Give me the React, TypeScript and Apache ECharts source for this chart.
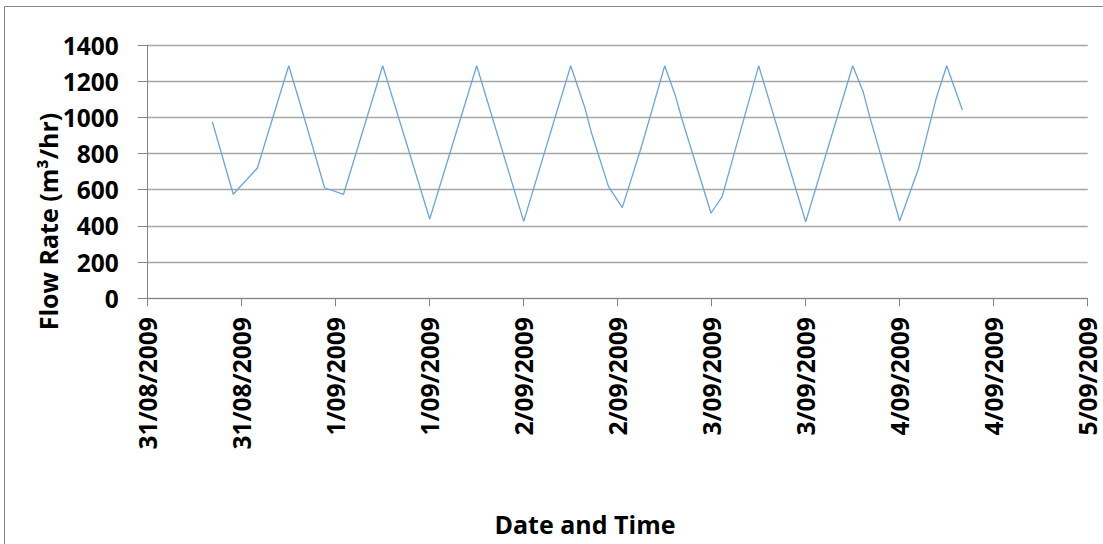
import React, { useEffect, useRef } from "react";
import * as echarts from "echarts";

const times: string[] = [
  "2009-08-31T08:15Z", "2009-08-31T10:55Z", "2009-08-31T14:00Z", "2009-08-31T18:00Z",
  "2009-08-31T19:15Z", "2009-08-31T20:15Z", "2009-08-31T22:35Z", "2009-09-01T01:00Z",
  "2009-09-01T06:00Z", "2009-09-01T12:00Z", "2009-09-01T18:00Z", "2009-09-02T00:00Z",
  "2009-09-02T06:00Z", "2009-09-02T07:50Z", "2009-09-02T08:40Z", "2009-09-02T10:50Z",
  "2009-09-02T12:35Z", "2009-09-02T14:50Z", "2009-09-02T16:05Z", "2009-09-02T18:00Z",
  "2009-09-02T19:20Z", "2009-09-02T20:10Z", "2009-09-02T23:55Z", "2009-09-03T01:20Z",
  "2009-09-03T06:00Z", "2009-09-03T12:00Z", "2009-09-03T18:00Z", "2009-09-03T19:20Z",
  "2009-09-03T20:10Z", "2009-09-04T00:00Z", "2009-09-04T01:30Z", "2009-09-04T02:25Z",
  "2009-09-04T04:40Z", "2009-09-04T06:00Z", "2009-09-04T08:00Z",
];

const flowRates: number[] = [
  976, 575, 720, 1285,
  1106, 958, 611, 575,
  1285, 438, 1285, 425,
  1285, 1050, 912, 617,
  501, 810, 995, 1285,
  1124, 995, 470, 562,
  1285, 423, 1285, 1142,
  1004, 427, 608, 719,
  1106, 1285, 1041,
];

const xStart = "2009-08-31T00:00Z";
const xEnd = "2009-09-05T00:00Z";
const xStepHours = 12;
const yTicks: number[] = [0, 200, 400, 600, 800, 1000, 1200, 1400];

const yTitle = "Flow Rate (m³/hr)";
const xTitle = "Date and Time";

const FONT = "'Open Sans', 'Liberation Sans', sans-serif";

export default function App() {
  const ref = useRef<HTMLDivElement>(null);

  useEffect(() => {
    document.body.style.margin = "0";
    if (!ref.current) return;
    const chart = echarts.init(ref.current, undefined, { renderer: "svg" });
    const data = times.map((t, i) => [Date.parse(t), flowRates[i]]);
    const fmt = (v: number) => {
      const d = new Date(v);
      const dd = d.getUTCDate();
      const mm = String(d.getUTCMonth() + 1).padStart(2, "0");
      return `${dd}/${mm}/${d.getUTCFullYear()}`;
    };
    chart.setOption({
      animation: false,
      backgroundColor: "#ffffff",
      grid: { left: 147.7, top: 45, right: 15.3, bottom: 245.7, containLabel: false },
      xAxis: {
        type: "value",
        min: Date.parse(xStart),
        max: Date.parse(xEnd),
        interval: xStepHours * 3600 * 1000,
        axisLine: { show: true, lineStyle: { color: "#868686", width: 1 } },
        axisTick: { show: true, length: 8, lineStyle: { color: "#868686" } },
        splitLine: { show: false },
        axisLabel: {
          rotate: 90,
          margin: 19,
          formatter: fmt,
          color: "#000",
          fontSize: 24.5,
          fontWeight: "bold",
          fontFamily: FONT,
          showMinLabel: true,
          showMaxLabel: true,
        },
      },
      yAxis: {
        type: "value",
        min: yTicks[0],
        max: yTicks[yTicks.length - 1],
        interval: yTicks[1] - yTicks[0],
        axisLine: { show: true, lineStyle: { color: "#868686", width: 1 } },
        axisTick: { show: true, length: 10, lineStyle: { color: "#868686" } },
        splitLine: { show: true, lineStyle: { color: "#a6a6a6", width: 1.3 } },
        axisLabel: {
          margin: 29,
          formatter: (v: number) => String(v),
          color: "#000",
          fontSize: 24.5,
          fontWeight: "bold",
          fontFamily: FONT,
        },
      },
      series: [
        {
          type: "line",
          data,
          symbol: "none",
          lineStyle: { color: "#6aa6de", width: 1.3 },
        },
      ],
      graphic: [
        {
          type: "rect",
          shape: { x: 4.5, y: 6.5, width: 1300, height: 700 },
          style: { fill: "none", stroke: "#868686", lineWidth: 1 },
          silent: true,
        },
        {
          type: "text",
          x: 48,
          y: 221.5,
          rotation: Math.PI / 2,
          style: {
            text: yTitle,
            fontSize: 25,
            fontWeight: "bold",
            fontFamily: FONT,
            fill: "#000",
            align: "center",
            verticalAlign: "middle",
          },
        },
        {
          type: "text",
          x: 585,
          y: 524,
          style: {
            text: xTitle,
            fontSize: 25,
            fontWeight: "bold",
            fontFamily: FONT,
            fill: "#000",
            align: "center",
            verticalAlign: "middle",
          },
        },
      ],
    });
    return () => chart.dispose();
  }, []);

  return <div ref={ref} style={{ width: 1103, height: 544 }} />;
}
